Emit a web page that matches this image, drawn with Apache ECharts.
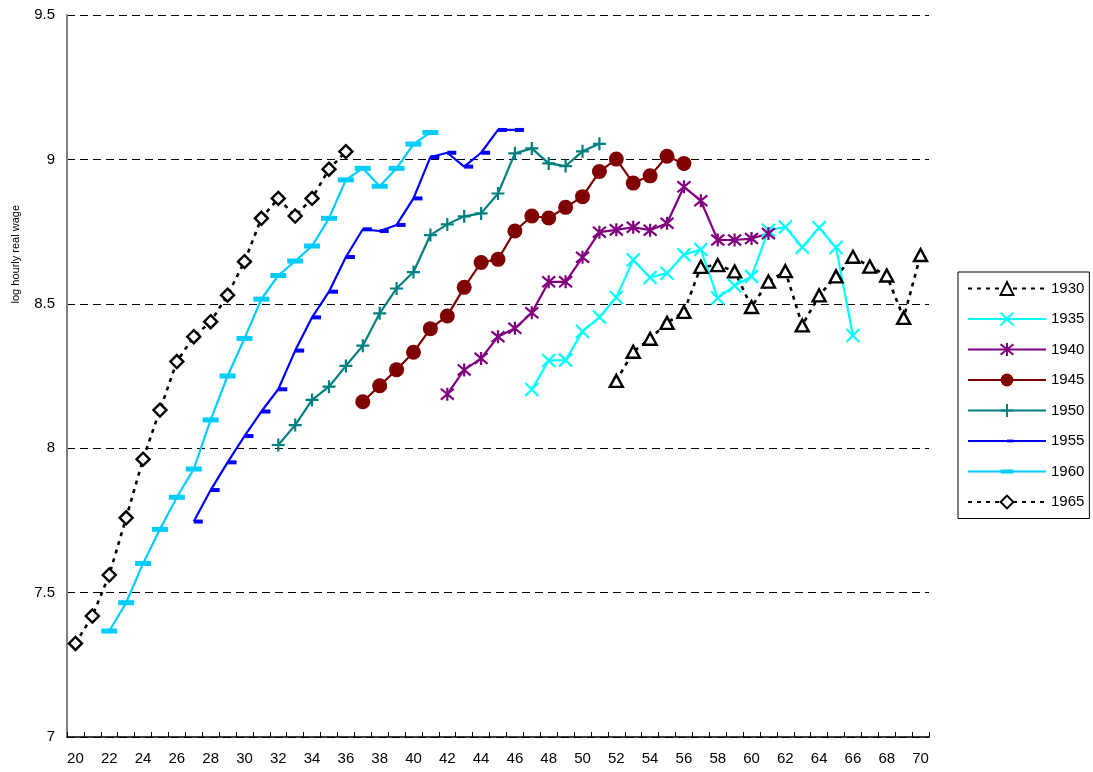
<!DOCTYPE html>
<html>
<head>
<meta charset="utf-8">
<script src="https://cdn.jsdelivr.net/npm/echarts@6/dist/echarts.min.js"></script>
<style>
  html, body { margin: 0; padding: 0; background: #ffffff; }
  #chart { width: 1093px; height: 772px; }
</style>
</head>
<body>
<div id="chart"></div>
<script>
// Age categories along the horizontal axis
const ageLabels = ['20','21','22','23','24','25','26','27','28','29','30','31','32','33','34','35',
  '36','37','38','39','40','41','42','43','44','45','46','47','48','49','50','51','52','53','54',
  '55','56','57','58','59','60','61','62','63','64','65','66','67','68','69','70'];

// Log hourly real wage by age, one list per birth cohort (first age given separately)
const start1930 = 52;
const wage1930 = [8.233, 8.334, 8.379, 8.434, 8.472, 8.628, 8.634, 8.612, 8.489, 8.577,
  8.613, 8.425, 8.529, 8.595, 8.663, 8.629, 8.598, 8.451, 8.669];

const start1935 = 47;
const wage1935 = [8.203, 8.304, 8.305, 8.404, 8.454, 8.522, 8.652, 8.591, 8.606, 8.670,
  8.688, 8.520, 8.563, 8.595, 8.755, 8.766, 8.696, 8.763, 8.695, 8.390];

const start1940 = 42;
const wage1940 = [8.187, 8.271, 8.311, 8.386, 8.415, 8.469, 8.576, 8.576, 8.661, 8.748,
  8.756, 8.765, 8.755, 8.779, 8.905, 8.857, 8.721, 8.721, 8.726, 8.743];

const start1945 = 37;
const wage1945 = [8.161, 8.216, 8.272, 8.332, 8.414, 8.458, 8.557, 8.643, 8.654, 8.752,
  8.804, 8.797, 8.834, 8.871, 8.958, 9.001, 8.918, 8.943, 9.011, 8.986];

const start1950 = 32;
const wage1950 = [8.011, 8.080, 8.167, 8.213, 8.285, 8.355, 8.467, 8.553, 8.610, 8.738,
  8.775, 8.803, 8.813, 8.882, 9.021, 9.038, 8.986, 8.977, 9.028, 9.054];

const start1955 = 27;
const wage1955 = [7.746, 7.855, 7.951, 8.042, 8.127, 8.204, 8.338, 8.453, 8.542, 8.662,
  8.758, 8.752, 8.773, 8.865, 9.008, 9.023, 8.975, 9.023, 9.102, 9.102];

const start1960 = 22;
const wage1960 = [7.367, 7.465, 7.601, 7.719, 7.830, 7.928, 8.098, 8.250, 8.380, 8.516,
  8.598, 8.648, 8.700, 8.796, 8.929, 8.969, 8.907, 8.969, 9.053, 9.093];

const start1965 = 20;
const wage1965 = [7.324, 7.419, 7.561, 7.759, 7.962, 8.132, 8.300, 8.386, 8.438, 8.530,
  8.646, 8.796, 8.865, 8.804, 8.865, 8.966, 9.027];

// Pair each wage with its age category
function pairs(start, values) {
  return values.map((v, i) => [String(start + i), v]);
}

// Marker shapes (stroked paths for X / star / plus, square-framed bars for dashes)
const X_PATH = 'path://M0,0L10,10M10,0L0,10';
const STAR_PATH = 'path://M0,0L10,10M10,0L0,10M5,-1L5,11';
const PLUS_PATH = 'path://M5,0L5,10M0,5L10,5';
const SHORT_DASH = 'path://M0,0M18,18M9,7L18,7L18,11L9,11Z';
const LONG_DASH = 'path://M0,0M16,16M0,5.5L16,5.5L16,10.5L0,10.5Z';

const FONT = 'Liberation Sans, Arial, sans-serif';

function cohort(name, start, values, color, opts) {
  return Object.assign({
    name: name,
    type: 'line',
    data: pairs(start, values),
    showAllSymbol: true,
    lineStyle: { color: color, width: 2.2 },
    itemStyle: { color: color, borderColor: color, borderWidth: 2 },
    emphasis: { disabled: true }
  }, opts);
}

const series = [
  cohort('1930', start1930, wage1930, '#000000', {
    symbol: 'triangle', symbolSize: [13, 12],
    lineStyle: { color: '#000000', width: 2.6, type: [4, 5] },
    itemStyle: { color: '#ffffff', borderColor: '#000000', borderWidth: 2.4 }
  }),
  cohort('1935', start1935, wage1935, '#00FFFF', {
    symbol: X_PATH, symbolSize: 13,
    itemStyle: { color: '#00FFFF', borderColor: '#00FFFF', borderWidth: 2.2 }
  }),
  cohort('1940', start1940, wage1940, '#800080', {
    symbol: STAR_PATH, symbolSize: 13,
    itemStyle: { color: '#800080', borderColor: '#800080', borderWidth: 2.2 }
  }),
  cohort('1945', start1945, wage1945, '#800000', {
    symbol: 'circle', symbolSize: 15,
    itemStyle: { color: '#800000', borderColor: '#800000', borderWidth: 0 }
  }),
  cohort('1950', start1950, wage1950, '#008080', {
    symbol: PLUS_PATH, symbolSize: 13,
    itemStyle: { color: '#008080', borderColor: '#008080', borderWidth: 2.2 }
  }),
  cohort('1955', start1955, wage1955, '#0000FF', {
    symbol: SHORT_DASH, symbolSize: 18,
    itemStyle: { color: '#0000FF', borderColor: '#0000FF', borderWidth: 0 }
  }),
  cohort('1960', start1960, wage1960, '#00CCFF', {
    symbol: LONG_DASH, symbolSize: 16,
    itemStyle: { color: '#00CCFF', borderColor: '#00CCFF', borderWidth: 0 }
  }),
  cohort('1965', start1965, wage1965, '#000000', {
    symbol: 'diamond', symbolSize: [13, 13],
    lineStyle: { color: '#000000', width: 2.6, type: [4, 5] },
    itemStyle: { color: '#ffffff', borderColor: '#000000', borderWidth: 2.4 }
  })
];

const chart = echarts.init(document.getElementById('chart'), null, { renderer: 'canvas' });

chart.setOption({
  animation: false,
  backgroundColor: '#ffffff',
  textStyle: { fontFamily: FONT },
  grid: { left: 67, right: 164, top: 15, bottom: 35, containLabel: false },
  xAxis: {
    type: 'category',
    data: ageLabels,
    boundaryGap: true,
    axisLine: { show: true, lineStyle: { color: '#000000', width: 1.5 } },
    axisTick: { show: true, inside: true, length: 5, interval: 0, lineStyle: { color: '#000000', width: 1 } },
    axisLabel: { interval: 1, margin: 14, color: '#000000', fontSize: 15, fontFamily: FONT },
    splitLine: { show: false }
  },
  yAxis: {
    type: 'value',
    min: 7, max: 9.5, interval: 0.5,
    axisLine: { show: true, lineStyle: { color: '#808080', width: 2 } },
    axisTick: { show: false },
    axisLabel: { margin: 12, color: '#000000', fontSize: 15, fontFamily: FONT },
    splitLine: { show: true, lineStyle: { color: '#000000', width: 1, type: [8, 5] } }
  },
  legend: {
    orient: 'vertical',
    left: 958, top: 272,
    padding: [9, 5, 9, 9],
    itemWidth: 78, itemHeight: 16, itemGap: 15.5,
    borderColor: '#000000', borderWidth: 1,
    selectedMode: false,
    textStyle: { color: '#000000', fontSize: 15, fontFamily: FONT },
    data: ['1930', '1935', '1940', '1945', '1950', '1955', '1960', '1965']
  },
  graphic: [{
    type: 'text',
    left: 10, top: 205,
    rotation: Math.PI / 2,
    style: {
      text: 'log hourly real wage',
      fill: '#000000',
      fontSize: 11,
      fontFamily: FONT
    }
  }],
  series: series
});
</script>
</body>
</html>
